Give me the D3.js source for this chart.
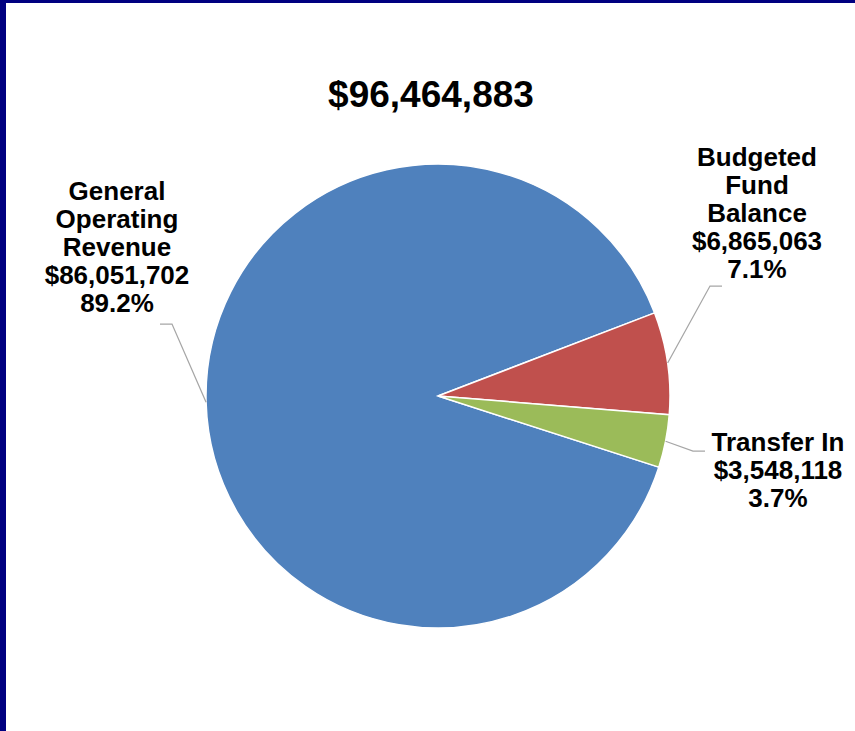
<!DOCTYPE html>
<html>
<head>
<meta charset="utf-8">
<script src="https://cdn.jsdelivr.net/npm/d3@7"></script>
<style>
  body { margin: 0; background: #fff; }
  text { font-family: "Liberation Sans", Arial, sans-serif; font-weight: bold; fill: #000; }
</style>
</head>
<body>
<div id="chart-pie"></div>
<script>
// Data
var categories = ["General Operating Revenue", "Budgeted Fund Balance", "Transfer In"];
var labelLines = [["General", "Operating", "Revenue"], ["Budgeted", "Fund", "Balance"], ["Transfer In"]];
var values = [86051702, 6865063, 3548118];
var colors = ["#4F81BD", "#C0504D", "#9BBB59"];

var width = 855, height = 731;
var cx = 438, cy = 396, radius = 232;
var lineColor = "#A6A6A6";
var navy = "#000080";

var svg = d3.select("#chart-pie")
    .append("svg")
    .attr("width", width)
    .attr("height", height);

// frame (left and top edges visible)
svg.append("rect").attr("x", 0).attr("y", 0).attr("width", 6).attr("height", height).attr("fill", navy);
svg.append("rect").attr("x", 0).attr("y", 0).attr("width", width).attr("height", 3).attr("fill", navy);

var total = d3.sum(values);
var money = d3.format("$,");
var pct = d3.format(".1%");

// Title
svg.append("text")
    .attr("x", 431)
    .attr("y", 107)
    .attr("text-anchor", "middle")
    .style("font-size", "37px")
    .text(money(total));

// Pie: second slice begins at 69 degrees clockwise from 12 o'clock
var start = (69 - 360 * values[0] / total) * Math.PI / 180;
var pie = d3.pie()
    .sort(null)
    .value(function(d) { return d; })
    .startAngle(start)
    .endAngle(start + 2 * Math.PI);

var arcs = pie(values);
var arc = d3.arc().innerRadius(0).outerRadius(radius);

var g = svg.append("g")
    .attr("transform", "translate(" + cx + "," + cy + ")");

g.selectAll("path")
    .data(arcs)
    .enter()
    .append("path")
        .attr("d", arc)
        .attr("fill", function(d, i) { return colors[i]; })
        .attr("stroke", "#fff")
        .attr("stroke-width", 1.5);

// label layout: elbow, end of leader, label centre x, first baseline
var layout = [
    { elbow: [172, 324], end: [160, 324], lx: 117, ly: 200 },
    { elbow: [710, 286], end: [722, 286], lx: 757, ly: 166 },
    { elbow: [693, 451], end: [705, 451], lx: 778, ly: 451 }
];
var lh = 28;

arcs.forEach(function(a, i) {
    var mid = (a.startAngle + a.endAngle) / 2;
    var p0 = [cx + radius * Math.sin(mid), cy - radius * Math.cos(mid)];
    var L = layout[i];
    svg.append("polyline")
        .attr("points", [p0, L.elbow, L.end].map(function(p) { return p.join(","); }).join(" "))
        .attr("fill", "none")
        .attr("stroke", lineColor)
        .attr("stroke-width", 1.25);

    var lines = labelLines[i].concat([money(values[i]), pct(values[i] / total)]);
    var t = svg.append("text")
        .attr("text-anchor", "middle")
        .style("font-size", "26px");
    lines.forEach(function(s, k) {
        t.append("tspan")
            .attr("x", L.lx)
            .attr("y", L.ly + k * lh)
            .text(s);
    });
});
</script>
</body>
</html>
